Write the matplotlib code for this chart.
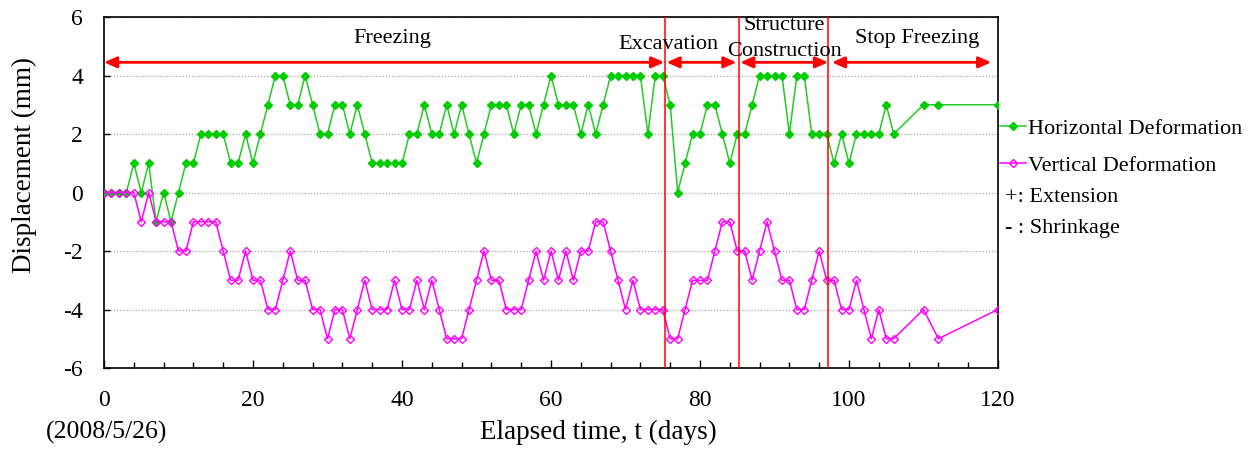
import matplotlib
matplotlib.use("Agg")
import matplotlib.pyplot as plt
from matplotlib.ticker import MultipleLocator

plt.rcParams['font.family'] = ['Liberation Serif', 'DejaVu Serif']
plt.rcParams['axes.unicode_minus'] = False

# ---------------- data ----------------
days = [0, 1, 2, 3, 4, 5, 6, 7, 8, 9, 10, 11, 12, 13, 14, 15, 16, 17, 18, 19,
        20, 21, 22, 23, 24, 25, 26, 27, 28, 29, 30, 31, 32, 33, 34, 35, 36, 37, 38, 39,
        40, 41, 42, 43, 44, 45, 46, 47, 48, 49, 50, 51, 52, 53, 54, 55, 56, 57, 58, 59,
        60, 61, 62, 63, 64, 65, 66, 67, 68, 69, 70, 71, 72, 73, 74, 75, 76, 77, 78, 79,
        80, 81, 82, 83, 84, 85, 86, 87, 88, 89, 90, 91, 92, 93, 94, 95, 96, 97, 98, 99,
        100, 101, 102, 103, 104, 105, 106, 110, 112, 120]

horizontal = [0, 0, 0, 0, 1, 0, 1, -1, 0, -1, 0, 1, 1, 2, 2, 2, 2, 1, 1, 2,
              1, 2, 3, 4, 4, 3, 3, 4, 3, 2, 2, 3, 3, 2, 3, 2, 1, 1, 1, 1,
              1, 2, 2, 3, 2, 2, 3, 2, 3, 2, 1, 2, 3, 3, 3, 2, 3, 3, 2, 3,
              4, 3, 3, 3, 2, 3, 2, 3, 4, 4, 4, 4, 4, 2, 4, 4, 3, 0, 1, 2,
              2, 3, 3, 2, 1, 2, 2, 3, 4, 4, 4, 4, 2, 4, 4, 2, 2, 2, 1, 2,
              1, 2, 2, 2, 2, 3, 2, 3, 3, 3]

vertical = [0, 0, 0, 0, 0, -1, 0, -1, -1, -1, -2, -2, -1, -1, -1, -1, -2, -3, -3, -2,
            -3, -3, -4, -4, -3, -2, -3, -3, -4, -4, -5, -4, -4, -5, -4, -3, -4, -4, -4, -3,
            -4, -4, -3, -4, -3, -4, -5, -5, -5, -4, -3, -2, -3, -3, -4, -4, -4, -3, -2, -3,
            -2, -3, -2, -3, -2, -2, -1, -1, -2, -3, -4, -3, -4, -4, -4, -4, -5, -5, -4, -3,
            -3, -3, -2, -1, -1, -2, -2, -3, -2, -1, -2, -3, -3, -4, -4, -3, -2, -3, -3, -4,
            -4, -3, -4, -5, -4, -5, -5, -4, -5, -4]

stage_lines = [75.3, 85.2, 97.2]
stage_names = ["Freezing", "Excavation", "Structure\nConstruction", "Stop Freezing"]
stage_arrows = [(0.0, 75.2), (75.5, 84.9), (85.4, 97.2), (97.7, 119.1)]
stage_label_pos = [(38.7, 5.27), (75.7, 5.05), (91.3, 5.25), (109.1, 5.27)]

xticks = [0, 20, 40, 60, 80, 100, 120]
yticks = [-6, -4, -2, 0, 2, 4, 6]

# ---------------- figure ----------------
W, H = 1254, 453
fig = plt.figure(figsize=(W / 100, H / 100), dpi=100)
L, R, T, B = 104, 998, 17, 368
ax = fig.add_axes([L / W, 1 - B / H, (R - L) / W, (B - T) / H])

green = '#00CC00'
green_line = '#22CC22'
magenta = '#FF00FF'
red = '#FF0000'
fs = 16
fs_tick = 17
fs_label = 19.5

ax.plot(days, horizontal, color=green_line, lw=1.1, marker='D', ms=4.3,
        mfc=green, mec=green, label='Horizontal Deformation', zorder=3)
ax.plot(days, vertical, color=magenta, lw=1.1, marker='D', ms=4.3,
        mfc='none', mec=magenta, mew=1.0, label='Vertical Deformation', zorder=4)

ax.set_xlim(0, 120)
ax.set_ylim(-6, 6)
ax.set_xticks(xticks)
ax.set_yticks(yticks)
ax.xaxis.set_minor_locator(MultipleLocator(4))
ax.tick_params(axis='x', which='major', direction='in', length=6, width=1, pad=16, labelsize=fs_tick)
ax.tick_params(axis='x', which='minor', direction='in', length=4, width=1)
ax.tick_params(axis='y', which='major', direction='in', length=4, width=1, pad=15, labelsize=fs_tick)
for s in ax.spines.values():
    s.set_linewidth(1.2)

ax.grid(axis='y', color='#A8A8A8', linestyle=(0, (1, 1.5)), linewidth=0.9, zorder=0)
ax.set_axisbelow(True)

for xl in stage_lines:
    ax.axvline(xl, color=red, lw=1.1, zorder=5)

arrow_y = 4.45
for (x0, x1) in stage_arrows:
    ax.annotate('', xy=(x1, arrow_y), xytext=(x0, arrow_y),
                arrowprops=dict(arrowstyle='<|-|>,head_length=0.75,head_width=0.33',
                                color=red, lw=2.0, shrinkA=0, shrinkB=0),
                annotation_clip=False, zorder=6)

for name, (tx, ty) in zip(stage_names, stage_label_pos):
    ax.text(tx, ty, name, ha='center', va='center', fontsize=fs,
            linespacing=1.5, clip_on=False, zorder=7)

# axis labels
fig.text(24 / W, 1 - 165 / H, 'Displacement (mm)', rotation=90,
         ha='center', va='center', fontsize=fs_label)
fig.text(598 / W, 1 - 432 / H, 'Elapsed time, t (days)', ha='center', va='center', fontsize=fs_label)
fig.text(107 / W, 1 - 432 / H, '(2008/5/26)', ha='center', va='center', fontsize=fs_label - 1)

# legend
leg = ax.legend(loc='upper left', bbox_to_anchor=(1000 / W, 1 - 118 / H),
                bbox_transform=fig.transFigure, frameon=False, fontsize=fs,
                handlelength=1.15, handletextpad=0.12, borderpad=0, borderaxespad=0,
                labelspacing=0.75, markerscale=0.85)
fig.text(1005 / W, 1 - 198 / H, '+: Extension', ha='left', va='center', fontsize=fs)
fig.text(1005 / W, 1 - 229 / H, '- : Shrinkage', ha='left', va='center', fontsize=fs)

fig.savefig('out.png', dpi=100)
